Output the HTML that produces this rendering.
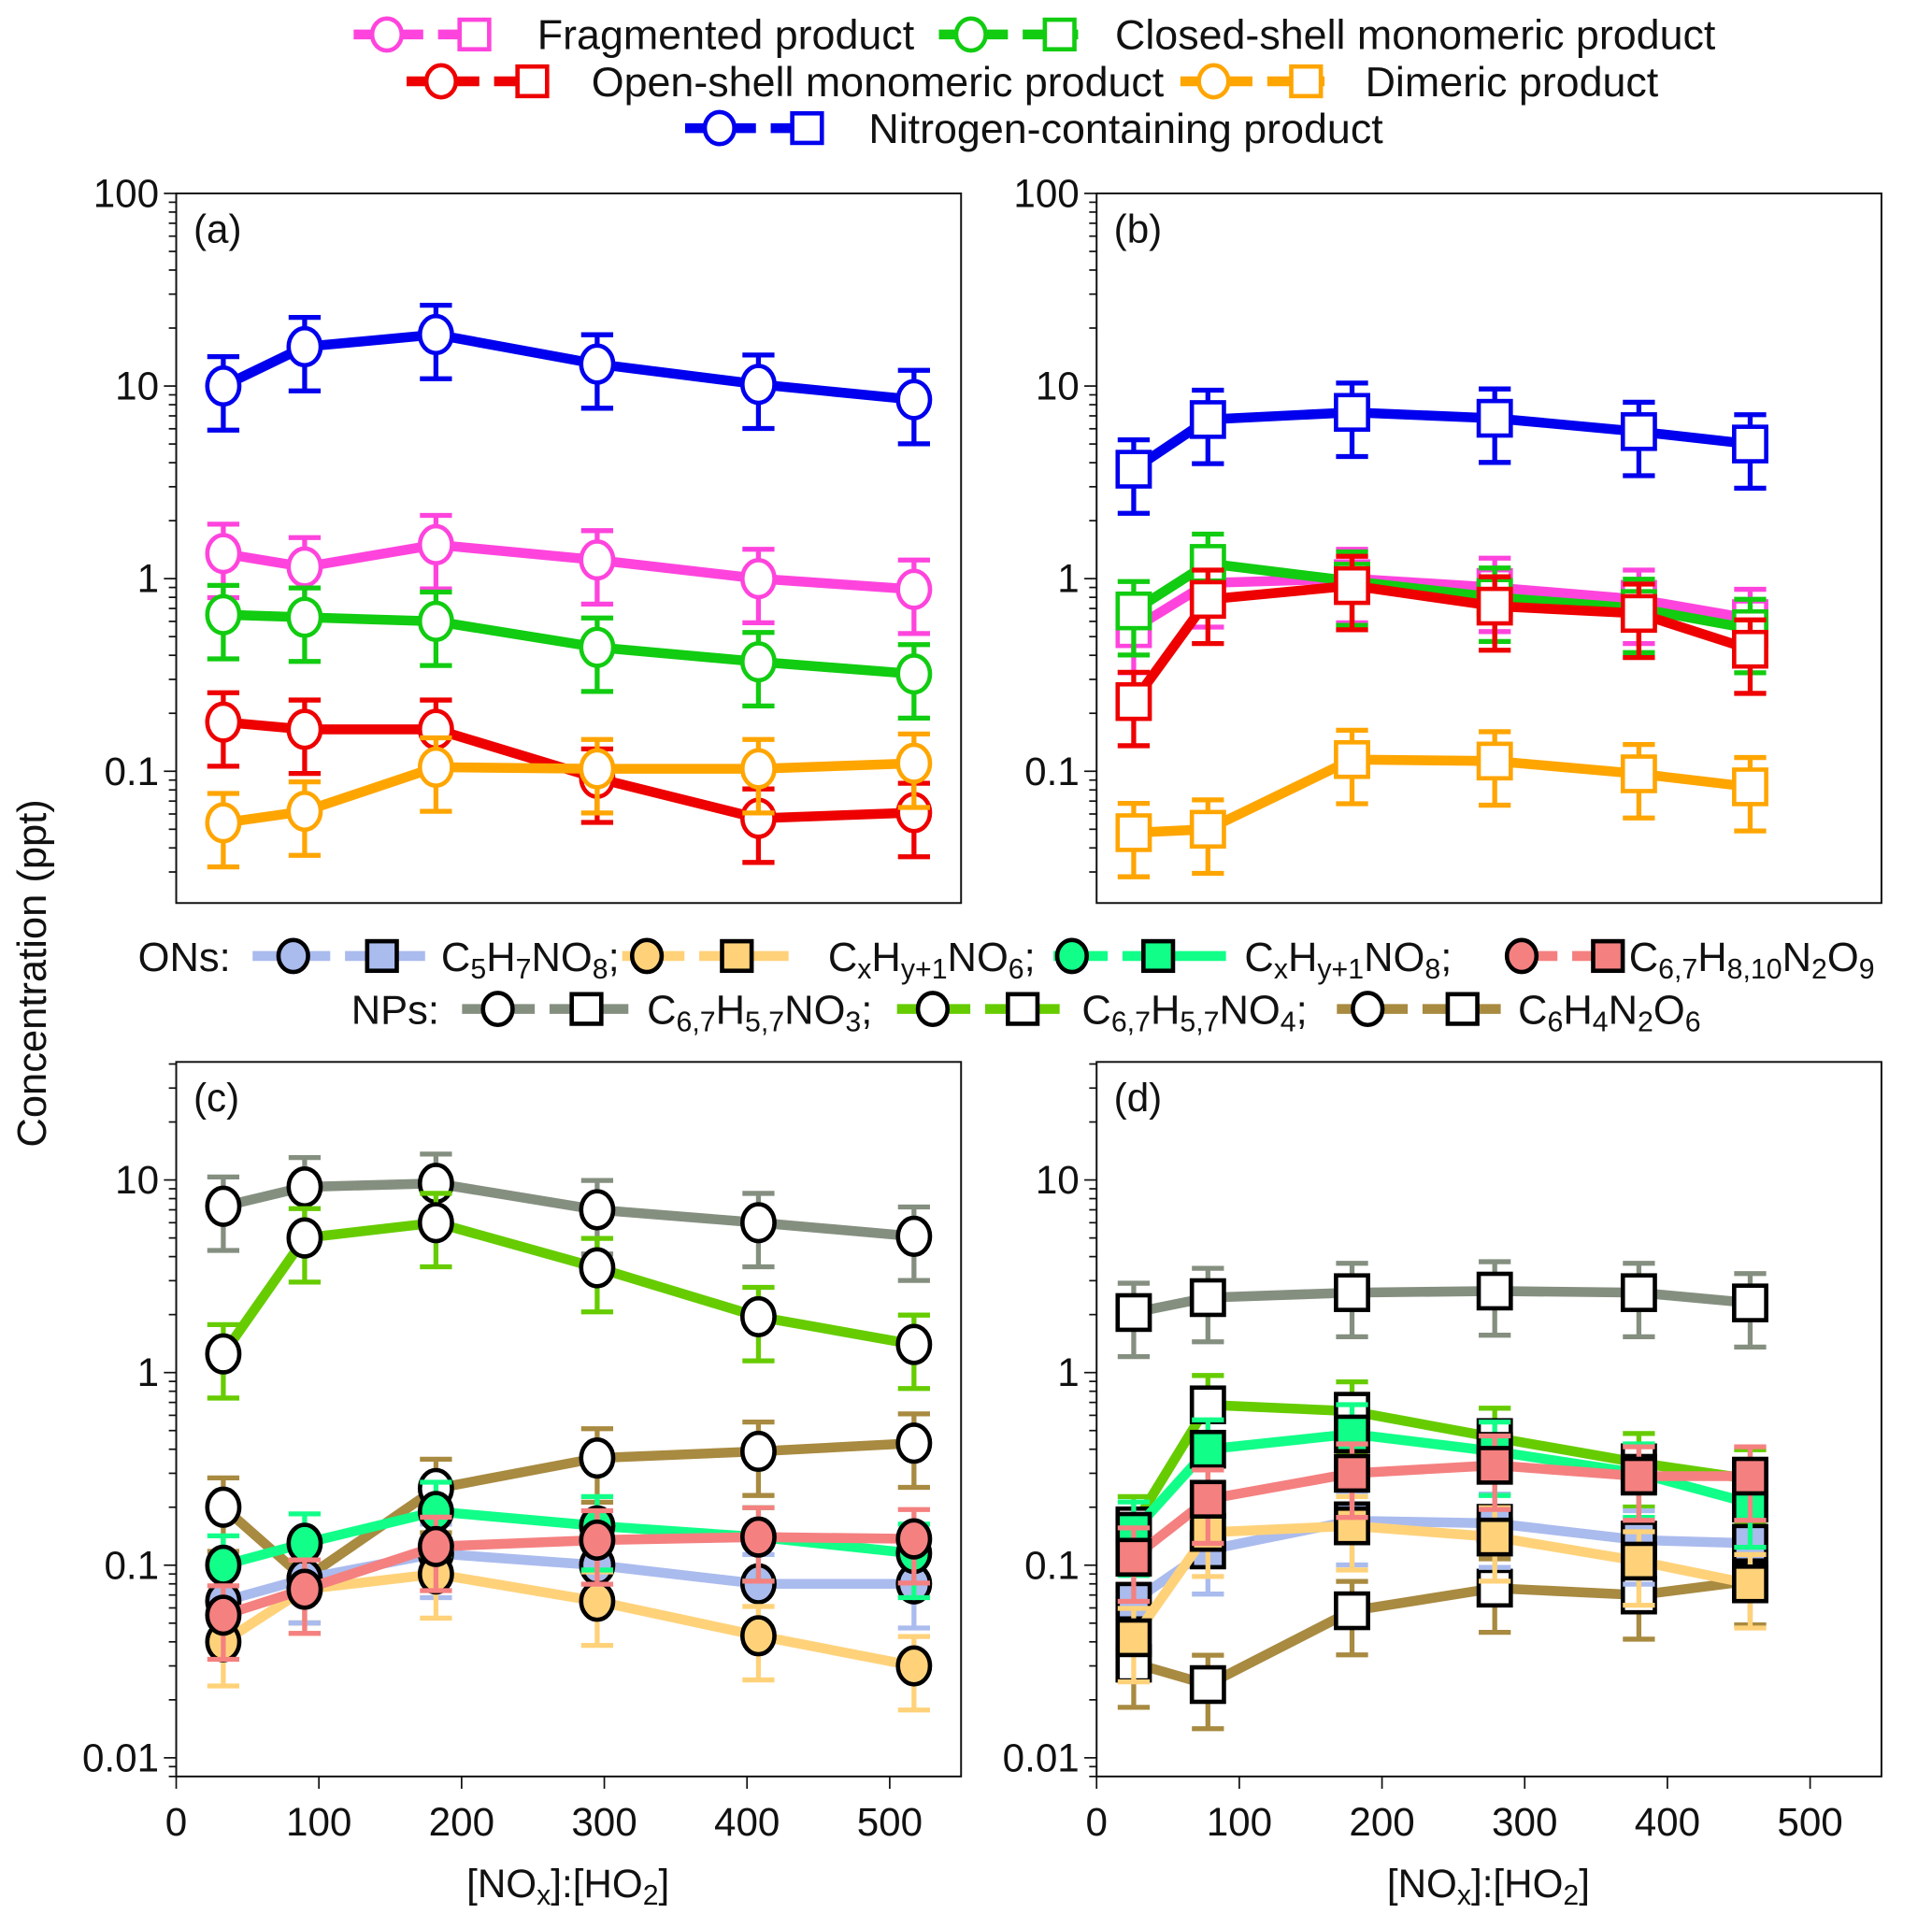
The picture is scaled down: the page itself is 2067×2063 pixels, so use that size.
<!DOCTYPE html>
<html><head><meta charset="utf-8"><style>
html,body{margin:0;padding:0;background:#fff}
svg{display:block}
text{font-family:"Liberation Sans",sans-serif;fill:#111}
</style></head><body>
<svg id="fig" width="2067" height="2063" viewBox="0 0 1568 1565" xmlns="http://www.w3.org/2000/svg"></svg>
<script>
const xA=[33,90,182,295,408,517];
const xB=[26,78,179,279,380,458];
const aBlue=[10,16,18.5,13,10.2,8.5];
const aPink=[1.35,1.15,1.5,1.25,1.0,0.88];
const aGreen=[0.65,0.63,0.6,0.44,0.37,0.32];
const aRed=[0.18,0.165,0.165,0.092,0.057,0.061];
const aOrange=[0.054,0.062,0.105,0.103,0.103,0.11];
const bBlue=[3.7,6.7,7.3,6.8,5.8,5.0];
const bPink=[0.55,0.95,1.0,0.9,0.78,0.62];
const bGreen=[0.68,1.2,0.97,0.8,0.7,0.55];
const bRed=[0.23,0.78,0.92,0.72,0.66,0.43];
const bOrange=[0.048,0.05,0.115,0.113,0.097,0.083];
const cGray=[7.3,9.2,9.6,7.0,6.0,5.1];
const cLime=[1.25,5.0,6.0,3.5,1.95,1.4];
const cBrown=[0.2,0.085,0.25,0.36,0.39,0.43];
const cLav=[0.065,0.085,0.115,0.1,0.08,0.08];
const cYel=[0.04,0.075,0.09,0.065,0.043,0.03];
const cMint=[0.1,0.13,0.19,0.16,0.14,0.115];
const cSalm=[0.055,0.075,0.125,0.135,0.14,0.137];
const dGray=[2.05,2.45,2.6,2.65,2.6,2.3];
const dLime=[0.16,0.68,0.63,0.46,0.34,0.28];
const dBrown=[0.031,0.024,0.058,0.076,0.07,0.083];
const dLav=[0.065,0.12,0.17,0.165,0.135,0.13];
const dYel=[0.042,0.148,0.16,0.14,0.105,0.08];
const dMint=[0.15,0.4,0.48,0.39,0.3,0.21];
const dSalm=[0.11,0.22,0.3,0.33,0.29,0.29];
const errUp=[0.42,0.42,0.42,0.42,0.42,0.42];
const errDn=[0.41,0.41,0.41,0.41,0.41,0.41];
const xTicks=[0,100,200,300,400,500];
const yTicksTop=[0.1,1,10,100];
const yTicksBot=[0.01,0.1,1,10];

const NS='http://www.w3.org/2000/svg';
const svg=document.getElementById('fig');
function el(tag,attrs,parent,txt){const e=document.createElementNS(NS,tag);for(const k in attrs)e.setAttribute(k,attrs[k]);if(txt!==undefined)e.textContent=txt;(parent||svg).appendChild(e);return e;}

function panel(name,x0,x1,y0,y1,ymin,ymax,ticks,showX){
  const g=el('g',{});
  
  
  const sx=v=>x0+(v/550)*(x1-x0);
  const sy=v=>y1-(Math.log10(v)-Math.log10(ymin))/(Math.log10(ymax)-Math.log10(ymin))*(y1-y0);
  const fr=el('rect',{x:x0,y:y0,width:x1-x0,height:y1-y0,fill:'none',stroke:'#111','stroke-width':1.5},g);
  
  for(let d=-3;d<=2;d++){for(let m=1;m<10;m++){const v=m*Math.pow(10,d);if(v<ymin||v>ymax)continue;
    const y=sy(v);el('line',{x1:x0-(m==1?10:6),x2:x0,y1:y,y2:y,stroke:'#111','stroke-width':1.3},g);}}
  ticks.forEach(t=>{const tx=el('text',{x:x0-14,y:sy(t)+11,'text-anchor':'end','font-size':32},g,String(t));
    });
  if(showX){xTicks.forEach(t=>{el('line',{x1:sx(t),x2:sx(t),y1:y1,y2:y1+10,stroke:'#111','stroke-width':1.3},g);
    const tx=el('text',{x:sx(t),y:y1+48,'text-anchor':'middle','font-size':32},g,String(t));
    });}
  const lb=el('text',{x:x0+14,y:y0+40,'font-size':32},g,'('+name+')');
  
  return {g,sx,sy};
}
function series(P,name,xs,vals,color,marker,fill,mstroke,lw){
  const g=el('g',{},P.g);
  
  
  const pts=xs.map((x,i)=>[P.sx(x),P.sy(vals[i])]);
  el('polyline',{points:pts.map(p=>p.join(',')).join(' '),fill:'none',stroke:color,'stroke-width':lw||8,'stroke-linejoin':'round'},g);
  pts.forEach((p,i)=>{const yu=P.sy(vals[i]*(1+errUp[i])),yd=P.sy(vals[i]*(1-errDn[i]));
    el('line',{x1:p[0],x2:p[0],y1:yu,y2:yd,stroke:color,'stroke-width':4},g);
    el('line',{x1:p[0]-13,x2:p[0]+13,y1:yu,y2:yu,stroke:color,'stroke-width':4},g);
    el('line',{x1:p[0]-13,x2:p[0]+13,y1:yd,y2:yd,stroke:color,'stroke-width':4},g);});
  pts.forEach(p=>{let m;
    if(marker=='c')m=el('ellipse',{cx:p[0],cy:p[1],rx:13,ry:15,fill:fill,stroke:mstroke,'stroke-width':3.5},g);
    else m=el('rect',{x:p[0]-13,y:p[1]-14,width:26,height:28,fill:fill,stroke:mstroke,'stroke-width':3.5},g);
    });
}
const C={blue:'#0000ee',pink:'#ff44dd',green:'#11cc11',red:'#ee0000',orange:'#ffa500',lav:'#aabbee',yel:'#ffd27a',mint:'#11ff88',salm:'#f58080',gray:'#858f80',lime:'#66cc00',brown:'#a88a40'};

const A=panel('a',143,780,157,733,0.0207,100,yTicksTop,false);
series(A,'nitrogen',xA,aBlue,C.blue,'c','#fff',C.blue);
series(A,'fragmented',xA,aPink,C.pink,'c','#fff',C.pink);
series(A,'closed-shell',xA,aGreen,C.green,'c','#fff',C.green);
series(A,'open-shell',xA,aRed,C.red,'c','#fff',C.red);
series(A,'dimeric',xA,aOrange,C.orange,'c','#fff',C.orange);
const B=panel('b',890,1527,157,733,0.0207,100,yTicksTop,false);
series(B,'nitrogen',xB,bBlue,C.blue,'s','#fff',C.blue);
series(B,'fragmented',xB,bPink,C.pink,'s','#fff',C.pink);
series(B,'closed-shell',xB,bGreen,C.green,'s','#fff',C.green);
series(B,'open-shell',xB,bRed,C.red,'s','#fff',C.red);
series(B,'dimeric',xB,bOrange,C.orange,'s','#fff',C.orange);
const Cp=panel('c',143,780,862,1442,0.008,41,yTicksBot,true);
series(Cp,'np-c67h57no3',xA,cGray,C.gray,'c','#fff','#000');
series(Cp,'np-c67h57no4',xA,cLime,C.lime,'c','#fff','#000');
series(Cp,'np-c6h4n2o6',xA,cBrown,C.brown,'c','#fff','#000');
series(Cp,'on-c5h7no8',xA,cLav,C.lav,'c',C.lav,'#000');
series(Cp,'on-cxhy1no6',xA,cYel,C.yel,'c',C.yel,'#000');
series(Cp,'on-cxhy1no8',xA,cMint,C.mint,'c',C.mint,'#000');
series(Cp,'on-c67h810n2o9',xA,cSalm,C.salm,'c',C.salm,'#000');
const D=panel('d',890,1527,862,1442,0.008,41,yTicksBot,true);
series(D,'np-c67h57no3',xB,dGray,C.gray,'s','#fff','#000');
series(D,'np-c67h57no4',xB,dLime,C.lime,'s','#fff','#000');
series(D,'np-c6h4n2o6',xB,dBrown,C.brown,'s','#fff','#000');
series(D,'on-c5h7no8',xB,dLav,C.lav,'s',C.lav,'#000');
series(D,'on-cxhy1no6',xB,dYel,C.yel,'s',C.yel,'#000');
series(D,'on-cxhy1no8',xB,dMint,C.mint,'s',C.mint,'#000');
series(D,'on-c67h810n2o9',xB,dSalm,C.salm,'s',C.salm,'#000');

function legItem(name,x1,x2,cx,sqx,y,color,fill,mstroke,tx,label,fs){
  const g=el('g',{});
  
  
  const mid=(cx+sqx)/2;
  el('line',{x1:x1,x2:mid-6,y1:y,y2:y,stroke:color,'stroke-width':8},g);
  el('line',{x1:mid+6,x2:x2,y1:y,y2:y,stroke:color,'stroke-width':8},g);
  el('ellipse',{cx:cx,cy:y,rx:12,ry:13,fill:fill,stroke:mstroke,'stroke-width':3.5},g);
  el('rect',{x:sqx-12,y:y-12,width:24,height:24,fill:fill,stroke:mstroke,'stroke-width':3.5},g);
  const t=el('text',{x:tx,y:y+12,'font-size':fs||33},g);t.innerHTML=label;
}
legItem('fragmented',287,398,314,385,28,C.pink,'#fff',C.pink,436,'Fragmented product',34);
legItem('closed-shell',762,875,788,860,28,C.green,'#fff',C.green,905,'Closed-shell monomeric product',34);
legItem('open-shell',330,440,358,432,66,C.red,'#fff',C.red,480,'Open-shell monomeric product',34);
legItem('dimeric',958,1075,985,1060,66,C.orange,'#fff',C.orange,1108,'Dimeric product',34);
legItem('nitrogen',556,665,584,655,104,C.blue,'#fff',C.blue,705,'Nitrogen-containing product',34);
const sb=(s)=>'<tspan font-size="23" baseline-shift="-28%">'+s+'</tspan>';
let t=el('text',{x:112,y:788,'font-size':33},svg,'ONs:');
legItem('c5h7no8',205,345,238,310,776,C.lav,C.lav,'#000',358,'C'+sb('5')+'H'+sb('7')+'NO'+sb('8')+';');
legItem('cxhy1no6',505,640,525,598,776,C.yel,C.yel,'#000',672,'C'+sb('x')+'H'+sb('y+1')+'NO'+sb('6')+';');
legItem('cxhy1no8',855,995,870,940,776,C.mint,C.mint,'#000',1010,'C'+sb('x')+'H'+sb('y+1')+'NO'+sb('8')+';');
legItem('c67h810n2o9',1222,1318,1235,1305,776,C.salm,C.salm,'#000',1322,'C'+sb('6,7')+'H'+sb('8,10')+'N'+sb('2')+'O'+sb('9'));
t=el('text',{x:285,y:831,'font-size':33},svg,'NPs:');
legItem('c67h57no3',375,510,404,476,819,C.gray,'#fff','#000',525,'C'+sb('6,7')+'H'+sb('5,7')+'NO'+sb('3')+';');
legItem('c67h57no4',728,860,757,830,819,C.lime,'#fff','#000',878,'C'+sb('6,7')+'H'+sb('5,7')+'NO'+sb('4')+';');
legItem('c6h4n2o6',1085,1218,1110,1187,819,C.brown,'#fff','#000',1232,'C'+sb('6')+'H'+sb('4')+'N'+sb('2')+'O'+sb('6'));
t=el('text',{x:0,y:0,'font-size':33,'text-anchor':'middle',transform:'translate(37,790) rotate(-90)'},svg,'Concentration (ppt)');

t=el('text',{x:461,y:1540,'font-size':32,'text-anchor':'middle'},svg);t.innerHTML='[NO'+sb('x')+']:[HO'+sb('2')+']';

t=el('text',{x:1208,y:1540,'font-size':32,'text-anchor':'middle'},svg);t.innerHTML='[NO'+sb('x')+']:[HO'+sb('2')+']';

</script>
</body></html>
